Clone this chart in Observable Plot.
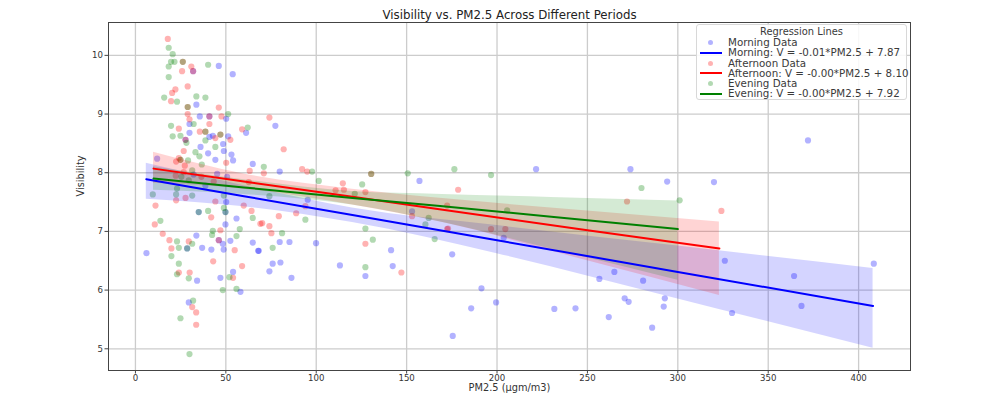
<!DOCTYPE html>
<html>
<head>
<meta charset="utf-8">
<script src="https://cdn.jsdelivr.net/npm/d3@7"></script>
<script src="https://cdn.jsdelivr.net/npm/@observablehq/plot@0.6"></script>
<style>
  html, body { margin: 0; padding: 0; background: #fff; }
  #wrap { position: relative; width: 1008px; height: 398px; font-family: "DejaVu Sans", sans-serif; }
  #legend { position: absolute; left: 696px; top: 24px; width: 211px; height: 76px; box-sizing: border-box;
    border: 1px solid #d8d8d8; border-radius: 3px; background: rgba(255,255,255,0.85); font-size: 10.3px; color: #3a3a3a; }
  #legend .ttl { text-align: center; margin-top: 1px; height: 11px; line-height: 11px; font-size: 9.9px; }
  #legend .row { position: relative; height: 10.3px; line-height: 10.3px; padding-left: 31px; white-space: nowrap; }
  #legend .dot { position: absolute; left: 11px; top: 3px; width: 5px; height: 5px; border-radius: 50%; }
  #legend .ln { position: absolute; left: 3px; top: 4.5px; width: 22px; height: 2px; }
</style>
</head>
<body>
<div id="wrap"><div id="chart"></div><div id="legend"></div></div>
<script>
const titleText = "Visibility vs. PM2.5 Across Different Periods";
const xLabel = "PM2.5 (µgm/m3)";
const yLabel = "Visibility";
const xTicks = [0, 50, 100, 150, 200, 250, 300, 350, 400];
const yTicks = [5, 6, 7, 8, 9, 10];
const periods = ["Morning", "Afternoon", "Evening"];
const colors = ["#0000ff", "#ff0000", "#008000"];
const legendLabels = ["Morning: V = -0.01*PM2.5 + 7.87", "Afternoon: V = -0.00*PM2.5 + 8.10", "Evening: V = -0.00*PM2.5 + 7.92"];

// [PM2.5, Visibility]
const morningPoints = [[46.1,9.82],[53.8,9.68],[31.9,9.73],[33.7,9.16],[35.6,8.96],[40.9,8.96],[50.2,8.92],[29.9,8.83],[61.2,8.68],[29.9,8.68],[42.8,8.63],[51.3,8.62],[27.7,8.56],[40.9,8.61],[48.5,8.49],[36,8.44],[48.9,8.37],[40.2,8.33],[53.1,8.31],[12,8.24],[44.2,8.22],[54,8.21],[64.9,8.15],[32.2,7.97],[45.2,7.98],[50.7,7.93],[38.7,7.78],[50.2,7.5],[35,7.33],[49.8,7.33],[55.9,7.22],[49.8,7.12],[33.7,6.93],[46.1,6.85],[48.3,6.79],[52.5,6.84],[64.9,6.81],[6.1,6.63],[36.9,6.72],[42,6.69],[48.8,6.69],[67.9,6.67],[28.6,6.71],[34.1,6.16],[47,6.21],[54,6.31],[58.1,5.97],[29.5,5.79],[77.4,8.8],[79.8,8.02],[95.3,7.54],[157.1,7.86],[153,7.34],[99.9,6.8],[79.8,6.82],[85.2,6.82],[68.2,6.67],[141.4,6.68],[175.2,6.61],[75.9,6.45],[80.2,6.47],[113.1,6.42],[142.3,6.41],[74.1,6.32],[86.3,6.21],[127.2,6.24],[221.6,8.06],[273.8,8.06],[294.1,7.85],[203.7,6.89],[191.4,6.03],[199.5,5.79],[185.7,5.69],[175.5,5.22],[231.7,5.68],[243.4,5.69],[256.6,6.19],[264.9,6.31],[280.8,6.16],[261.8,5.54],[270.6,5.86],[272.8,5.8],[292.8,5.86],[292.2,5.72],[285.8,5.36],[372,8.55],[320,7.84],[326,6.5],[408.4,6.45],[364.3,6.24],[368.4,5.73],[330,5.61]];
const afternoonPoints = [[17.9,10.28],[26.2,9.89],[30.9,9.81],[25.8,9.73],[31.9,9.73],[28.9,9.47],[22.1,9.42],[20.3,9.36],[19.7,9.22],[28.9,9.12],[46.1,9.11],[28.9,9.0],[40.9,8.96],[47.6,8.96],[29.9,8.91],[40.9,8.83],[24,8.75],[59,8.74],[35.6,8.7],[38.7,8.7],[47,8.65],[44.2,8.59],[52.5,8.56],[27.7,8.56],[26.7,8.37],[24,8.25],[24.9,8.22],[22.5,8.19],[50.2,8.17],[27.3,8.12],[63.2,8.03],[26.7,8.01],[22.3,7.95],[36.5,7.93],[43.3,7.85],[62.7,7.84],[22.5,7.53],[27.7,7.57],[44.2,7.51],[59.9,7.44],[11.1,7.44],[64.2,7.35],[41.9,7.24],[10.7,7.12],[69.1,7.13],[47,7.02],[15.1,6.96],[18.8,6.85],[29.5,6.83],[46.1,6.85],[19.9,6.71],[54.9,6.68],[43,6.49],[59,6.41],[24,6.3],[30,6.3],[54,6.21],[31.4,5.71],[33.6,5.62],[33.6,5.41],[74.1,8.94],[82,8.4],[92.2,8.06],[95,8.02],[71,7.99],[130.4,7.98],[114.7,7.82],[115.3,7.71],[110.7,7.7],[127.2,7.67],[94,7.43],[88.9,7.31],[79.3,7.26],[70.1,7.14],[74.1,7.09],[75.2,6.97],[153,7.26],[172.9,7.05],[127.2,6.79],[147.1,6.3],[178.5,7.71],[271.9,7.51],[172.4,7.44],[172.4,7.04],[196.7,7.04],[204.6,7.04],[324.1,7.35]];
const eveningPoints = [[18.4,10.13],[20.6,10.02],[19.7,9.89],[21.6,9.89],[26.2,9.89],[18.4,9.81],[40.2,9.84],[18.4,9.63],[15.9,9.28],[23,9.21],[33.7,9.3],[38.7,9.28],[28.9,9.12],[51.3,9.0],[32.2,8.83],[19.7,8.8],[62.1,8.77],[20.6,8.62],[24.9,8.63],[38.7,8.7],[47,8.65],[38.7,8.55],[28.2,8.51],[44.2,8.44],[33.2,8.35],[35.4,8.28],[24.9,8.22],[29.1,8.21],[36.7,8.14],[31.4,8.04],[25.4,7.93],[29.5,7.87],[23,7.73],[9.6,7.63],[22.5,7.63],[31.4,7.61],[48.9,7.61],[48.9,7.4],[40.2,7.35],[64.9,7.23],[13.8,7.18],[57.7,7.04],[42.8,7.01],[42.4,6.94],[55.9,6.92],[23,6.83],[31.4,6.79],[24,6.72],[28.6,6.71],[19.9,6.58],[24,6.45],[23,6.27],[29.5,6.2],[52,6.22],[48.3,6.0],[55.9,6.02],[31.9,5.82],[24.9,5.52],[29.9,4.91],[71,8.1],[97.7,8.02],[101.4,7.86],[130.4,7.98],[150.6,7.99],[176.4,8.06],[125.4,7.8],[121.3,7.64],[74.1,7.6],[94,7.2],[81.1,6.97],[127.2,7.05],[162.2,7.23],[160.4,7.12],[165.5,6.87],[131.3,6.86],[75.9,6.72],[127.2,6.39],[196.7,7.96],[279.9,7.74],[301,7.53],[205.6,7.36],[35,7.33],[49.8,7.33]];

// regression fit and confidence band
const morningBandX = [6, 60, 120, 200, 300, 408];
const morningFit   = [7.89, 7.60, 7.28, 6.85, 6.31, 5.73];
const morningHi    = [8.16, 7.78, 7.40, 7.10, 6.75, 6.37];
const morningLo    = [7.55, 7.42, 7.15, 6.62, 5.85, 5.01];
const afternoonBandX = [10, 60, 120, 170, 250, 323];
const afternoonFit   = [8.07, 7.85, 7.59, 7.37, 7.02, 6.71];
const afternoonHi    = [8.35, 7.98, 7.72, 7.56, 7.35, 7.16];
const afternoonLo    = [7.82, 7.72, 7.45, 7.15, 6.50, 5.91];
const eveningBandX = [10, 60, 120, 170, 230, 300];
const eveningFit   = [7.90, 7.75, 7.57, 7.43, 7.25, 7.04];
const eveningHi    = [8.10, 7.88, 7.68, 7.63, 7.58, 7.52];
const eveningLo    = [7.70, 7.63, 7.45, 7.15, 6.70, 6.17];

const pointSets = [morningPoints, afternoonPoints, eveningPoints];
const bands = [
  [morningBandX, morningFit, morningHi, morningLo],
  [afternoonBandX, afternoonFit, afternoonHi, afternoonLo],
  [eveningBandX, eveningFit, eveningHi, eveningLo]
];

const pts = pointSets.flatMap((s, i) => s.map(([x, y]) => ({period: periods[i], x, y})));
const band = bands.flatMap(([bx, f, hi, lo], i) => bx.map((x, j) => ({period: periods[i], x, fit: f[j], hi: hi[j], lo: lo[j]})));

const font = "DejaVu Sans, sans-serif";
const colorScale = {domain: periods, range: colors};

const chart = Plot.plot({
  width: 1008, height: 398,
  marginLeft: 108, marginRight: 98, marginTop: 22, marginBottom: 28,
  style: {fontFamily: font, fontSize: "8.6px", color: "#333", background: "#fff"},
  x: {domain: [-14.9, 428.7]},
  y: {domain: [4.63, 10.56]},
  color: colorScale,
  marks: [
    Plot.gridX(xTicks, {stroke: "#cccccc", strokeOpacity: 1, strokeWidth: 1.3}),
    Plot.gridY(yTicks, {stroke: "#cccccc", strokeOpacity: 1, strokeWidth: 1.3}),
    Plot.dot(pts, {x: "x", y: "y", fill: "period", fillOpacity: 0.3, r: 3.1, stroke: null}),
    Plot.areaY(band, {x: "x", y1: "lo", y2: "hi", z: "period", fill: "period", fillOpacity: 0.17, curve: "monotone-x"}),
    Plot.line(band, {x: "x", y: "fit", z: "period", stroke: "period", strokeWidth: 2}),
    Plot.frame({stroke: "#444", strokeWidth: 1}),
    Plot.axisX(xTicks, {tickSize: 3.5, tickPadding: 1, stroke: "#444", fill: "#333", fontSize: 8.6, label: null}),
    Plot.axisY(yTicks, {tickSize: 3.5, tickPadding: 2, stroke: "#444", fill: "#333", fontSize: 8.6, tickFormat: "d", label: null}),
    Plot.text([xLabel], {frameAnchor: "bottom", lineAnchor: "middle", dy: 17, fontSize: 9.8, fill: "#333"}),
    Plot.text([yLabel], {frameAnchor: "left", lineAnchor: "middle", rotate: -90, dx: -28, fontSize: 9.8, fill: "#333"}),
    Plot.text([titleText], {frameAnchor: "top", lineAnchor: "middle", dy: -7, fontSize: 11.8, fill: "#222"})
  ]
});
document.getElementById("chart").appendChild(chart);

const legend = document.getElementById("legend");
let html = '<div class="ttl">Regression Lines</div>';
periods.forEach((p, i) => {
  html += `<div class="row"><span class="dot" style="background:${colors[i]};opacity:0.3"></span>${p} Data</div>`;
  html += `<div class="row"><span class="ln" style="background:${colors[i]}"></span>${legendLabels[i]}</div>`;
});
legend.innerHTML = html;
</script>
</body>
</html>
